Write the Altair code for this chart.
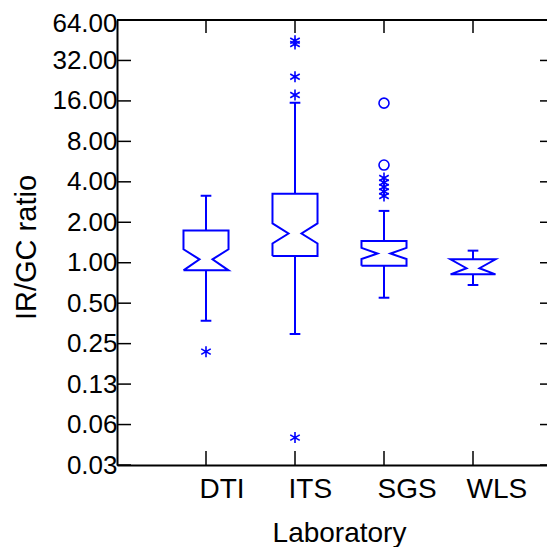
import json
import altair as alt
import pandas as pd

# ---------------- data ----------------
labs = ["DTI", "ITS", "SGS", "WLS"]
whisker_lo = [0.37, 0.295, 0.549, 0.683]
q1 = [0.878, 1.12, 0.95, 0.82]
notch_lo = [0.878, 1.39, 1.065, 0.82]
median = [1.06, 1.65, 1.17, 0.91]
notch_hi = [1.26, 1.96, 1.29, 1.06]
q3 = [1.74, 3.26, 1.45, 1.06]
whisker_hi = [3.15, 15.5, 2.43, 1.23]

extreme_lab = ["DTI", "ITS", "ITS", "ITS", "ITS", "ITS", "SGS", "SGS", "SGS", "SGS", "SGS"]
extreme_val = [0.218, 44.9, 42.4, 24.2, 17.7, 0.050, 4.27, 3.95, 3.66, 3.39, 3.14]
outlier_lab = ["SGS", "SGS"]
outlier_val = [15.4, 5.33]

y_ticks = [0.03125, 0.0625, 0.125, 0.25, 0.5, 1, 2, 4, 8, 16, 32, 64]

# ---------------- layout / style ----------------
W, H = 430, 445          # plot area runs to the page's right edge
STEP = 89                # pixels between categories
BOX_HALF = 0.253
NOTCH_INSET = 0.18
CAP_HALF = 0.06
BLUE = "#0000ff"
FONT = "Liberation Sans"
TICK_LEN = 14

pos = {lab: i + 1 for i, lab in enumerate(labs)}
xscale = alt.Scale(domain=[0, W / STEP], nice=False, zero=False)
yscale = alt.Scale(type="log", base=2, domain=[y_ticks[0], y_ticks[-1]], nice=False)

label_expr = json.dumps(labs) + "[datum.value - 1]"

x_axis = alt.Axis(
    values=[pos[l] for l in labs], labelExpr=label_expr, title="Laboratory",
    domain=True, domainColor="black", domainWidth=2,
    ticks=False, tickSize=0, grid=False,
    labelFont=FONT, labelFontSize=28, labelColor="black", labelAlign="left",
    labelOffset=-7, labelPadding=10, labelBaseline="top", labelFlush=False, labelOverlap=False,
    titleFont=FONT, titleFontSize=28, titleFontWeight="normal", titleColor="black",
    titleX=222, titleY=76, titleAlign="center", titleBaseline="alphabetic",
)
y_axis = alt.Axis(
    values=y_ticks, format=".2f", title="IR/GC ratio",
    domain=True, domainColor="black", domainWidth=2,
    ticks=False, tickSize=0, grid=False,
    labelFont=FONT, labelFontSize=26, labelColor="black", labelPadding=0,
    labelOffset={"condition": {"test": f"datum.value >= {y_ticks[-1]}", "value": 3}, "value": 0},
    labelFlush=False, labelOverlap=False,
    titleFont=FONT, titleFontSize=29, titleFontWeight="normal", titleColor="black",
    titleX=-82, titleY=227, titleAlign="center", titleBaseline="alphabetic", titleAngle=270,
)


def X(field="x"):
    return alt.X(f"{field}:Q", scale=xscale, axis=x_axis)


def Y(field="y"):
    return alt.Y(f"{field}:Q", scale=yscale, axis=y_axis)


# notched box outlines
rows = []
for i, lab in enumerate(labs):
    c = pos[lab]
    l, r = c - BOX_HALF, c + BOX_HALF
    pts = [
        (l, q1[i]), (l, notch_lo[i]), (l + NOTCH_INSET, median[i]), (l, notch_hi[i]), (l, q3[i]),
        (r, q3[i]), (r, notch_hi[i]), (r - NOTCH_INSET, median[i]), (r, notch_lo[i]), (r, q1[i]),
        (l, q1[i]),
    ]
    for k, (px, py) in enumerate(pts):
        rows.append({"lab": lab, "x": px, "y": py, "order": k})
box_df = pd.DataFrame(rows)

whisk_rows = []
cap_rows = []
for i, lab in enumerate(labs):
    c = pos[lab]
    whisk_rows.append({"x": c, "y": q3[i], "y2": whisker_hi[i]})
    whisk_rows.append({"x": c, "y": q1[i], "y2": whisker_lo[i]})
    cap_rows.append({"x": c - CAP_HALF, "x2": c + CAP_HALF, "y": whisker_hi[i]})
    cap_rows.append({"x": c - CAP_HALF, "x2": c + CAP_HALF, "y": whisker_lo[i]})
whisk_df = pd.DataFrame(whisk_rows)
cap_df = pd.DataFrame(cap_rows)

ext_df = pd.DataFrame({"x": [pos[l] for l in extreme_lab], "y": extreme_val})
out_df = pd.DataFrame({"x": [pos[l] for l in outlier_lab], "y": outlier_val})

ytick_df = pd.DataFrame({"y": y_ticks})
xtick_df = pd.DataFrame({"x": [pos[l] for l in labs]})
one = pd.DataFrame({"k": [0]})

boxes = alt.Chart(box_df).mark_line(color=BLUE, strokeWidth=2).encode(
    x=X(), y=Y(), detail="lab:N", order="order:Q"
)
whiskers = alt.Chart(whisk_df).mark_rule(color=BLUE, strokeWidth=2).encode(
    x=X(), y=Y(), y2="y2:Q"
)
caps = alt.Chart(cap_df).mark_rule(color=BLUE, strokeWidth=2).encode(
    x=X(), x2="x2:Q", y=Y()
)
star_path = "M0,-1L0,1M-0.866,-0.5L0.866,0.5M-0.866,0.5L0.866,-0.5"
stars = alt.Chart(ext_df).mark_point(
    shape=star_path, filled=False, color=BLUE, strokeWidth=1.6, size=121, opacity=1
).encode(x=X(), y=Y())
circles = alt.Chart(out_df).mark_point(
    shape="circle", filled=False, color=BLUE, strokeWidth=1.6, size=100, opacity=1
).encode(x=X(), y=Y())

# frame top line and inward tick marks
top_line = alt.Chart(one).mark_rule(color="black", strokeWidth=2).encode(
    x=alt.value(0), x2=alt.value(W), y=alt.value(0)
)
ytl = alt.Chart(ytick_df).mark_rule(color="black", strokeWidth=1.5).encode(
    y=Y(), x=alt.value(0), x2=alt.value(TICK_LEN)
)
ytr = alt.Chart(ytick_df).mark_rule(color="black", strokeWidth=1.5).encode(
    y=Y(), x=alt.value(W), x2=alt.value(W - 7)
)
xtt = alt.Chart(xtick_df).mark_rule(color="black", strokeWidth=1.5).encode(
    x=X(), y=alt.value(0), y2=alt.value(TICK_LEN - 1)
)
xtb = alt.Chart(xtick_df).mark_rule(color="black", strokeWidth=1.5).encode(
    x=X(), y=alt.value(H), y2=alt.value(H - TICK_LEN)
)

chart = alt.layer(top_line, ytl, ytr, xtt, xtb, boxes, whiskers, caps, stars, circles).properties(
    width=W, height=H,
    autosize=alt.AutoSizeParams(type="none"),
    padding={"left": 109, "top": 12, "right": 0, "bottom": 82},
    background="white",
).configure_view(stroke=None)

chart.save("out.html", embed_options={"renderer": "svg", "actions": False})
